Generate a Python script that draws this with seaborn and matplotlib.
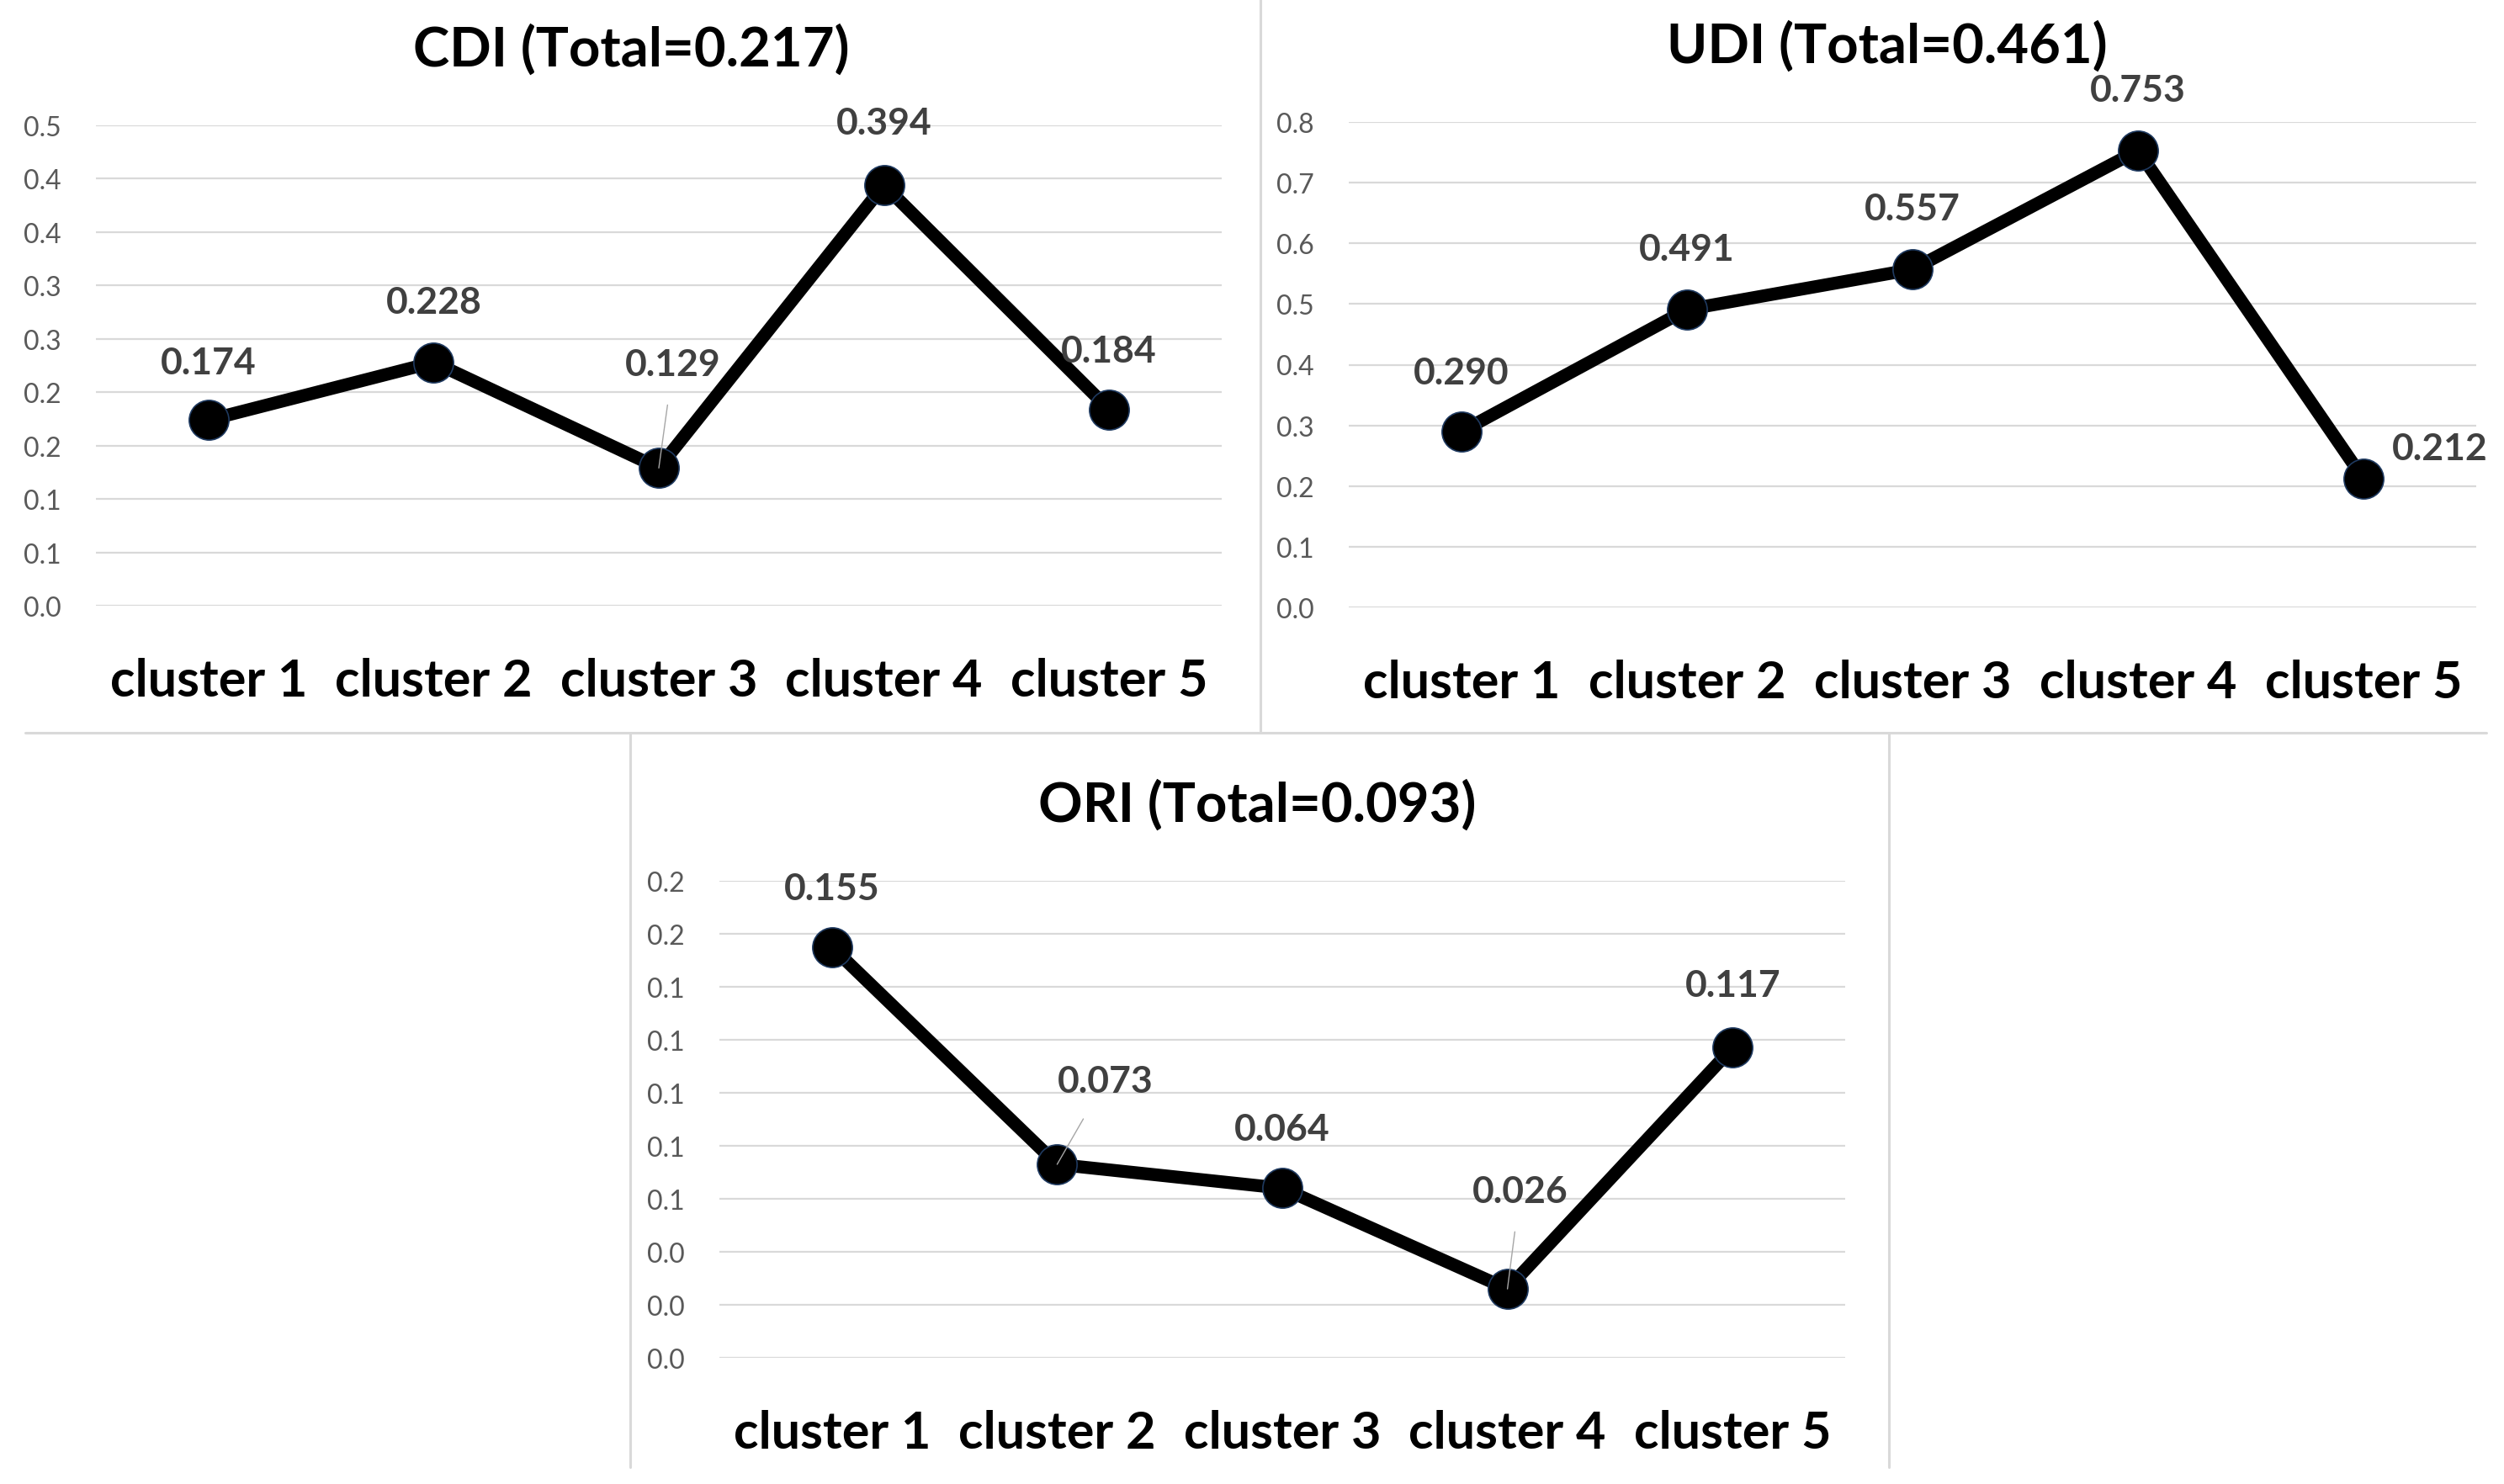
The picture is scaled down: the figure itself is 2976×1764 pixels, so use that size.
import matplotlib
matplotlib.use("Agg")
import matplotlib.pyplot as plt
import seaborn as sns
import pandas as pd
from matplotlib.lines import Line2D

# ---------------- data ----------------
clusters = ["cluster 1", "cluster 2", "cluster 3", "cluster 4", "cluster 5"]

cdi_values = [0.174, 0.228, 0.129, 0.394, 0.184]
udi_values = [0.290, 0.491, 0.557, 0.753, 0.212]
ori_values = [0.155, 0.073, 0.064, 0.026, 0.117]

cdi_title = "CDI (Total=0.217)"
udi_title = "UDI (Total=0.461)"
ori_title = "ORI (Total=0.093)"

cdi_yticks = [0.00, 0.05, 0.10, 0.15, 0.20, 0.25, 0.30, 0.35, 0.40, 0.45]
cdi_ylabels = ["0.0", "0.1", "0.1", "0.2", "0.2", "0.3", "0.3", "0.4", "0.4", "0.5"]
udi_yticks = [0.0, 0.1, 0.2, 0.3, 0.4, 0.5, 0.6, 0.7, 0.8]
udi_ylabels = ["0.0", "0.1", "0.2", "0.3", "0.4", "0.5", "0.6", "0.7", "0.8"]
ori_yticks = [0.00, 0.02, 0.04, 0.06, 0.08, 0.10, 0.12, 0.14, 0.16, 0.18]
ori_ylabels = ["0.0", "0.0", "0.0", "0.1", "0.1", "0.1", "0.1", "0.1", "0.2", "0.2"]

# label offsets in pixels (dx, dy) and whether a leader line is drawn
cdi_offsets = [(0, 68), (0, 72), (17, 123), (0, 74), (0, 70)]
cdi_leader = [False, False, True, False, False]
udi_offsets = [(0, 70), (0, 72), (0, 72), (0, 72), (91, 36)]
udi_leader = [False, False, False, False, False]
ori_offsets = [(0, 70), (57, 99), (0, 70), (15, 116), (0, 74)]
ori_leader = [False, True, False, True, False]

# ---------------- style ----------------
sns.set_theme(style="white")
plt.rcParams["font.family"] = ["Lato", "DejaVu Sans"]

W, H = 2976, 1765
DPI = 100
fig = plt.figure(figsize=(W / DPI, H / DPI), dpi=DPI)
fig.patch.set_facecolor("white")

GRID = "#d9d9d9"


def px_axes(left, right, bottom_px, top_px):
    return fig.add_axes([left / W, 1 - bottom_px / H, (right - left) / W, (bottom_px - top_px) / H])


def draw_panel(ax, values, yticks, ylabels, ymax, title, title_xy, offsets, leaders):
    df = pd.DataFrame({"cluster": clusters, "value": values})
    df["pos"] = range(len(clusters))
    sns.lineplot(data=df, x="pos", y="value", ax=ax, color="black", linewidth=11,
                 marker="o", markersize=34, markerfacecolor="black",
                 markeredgecolor="#1f3a60", markeredgewidth=1.2, sort=False, zorder=3)
    ax.set_xlim(-0.5, len(clusters) - 0.5)
    ax.set_ylim(0, ymax)
    ax.set_yticks(yticks)
    ax.set_yticklabels(ylabels, fontsize=23, color="#595959")
    ax.set_xticks(range(len(clusters)))
    ax.set_xticklabels(clusters, fontsize=44, fontweight="bold", color="black")
    ax.tick_params(axis="y", length=0, pad=30)
    ax.tick_params(axis="x", length=0, pad=44)
    ax.set_xlabel("")
    ax.set_ylabel("")
    ax.yaxis.grid(True, color=GRID, linewidth=1.6)
    ax.xaxis.grid(False)
    for s in ax.spines.values():
        s.set_visible(False)
    ax.set_facecolor("none")
    for i, v in enumerate(values):
        dx, dy = offsets[i]
        ap = None
        if leaders[i]:
            ap = dict(arrowstyle="-", color="#a6a6a6", lw=1.0, shrinkA=18, shrinkB=0)
        ax.annotate(f"{v:.3f}", xy=(i, v), xytext=(dx, dy), textcoords="offset pixels",
                    ha="center", va="center", fontsize=32, fontweight="bold",
                    color="#404040", arrowprops=ap, zorder=4, annotation_clip=False)
    fig.text(title_xy[0] / W, 1 - title_xy[1] / H, title, ha="center", va="center",
             fontsize=47, fontweight="bold", color="black")


ax1 = px_axes(114, 1452, 721, 150)
draw_panel(ax1, cdi_values, cdi_yticks, cdi_ylabels, 0.45, cdi_title, (750, 59),
           cdi_offsets, cdi_leader)

ax2 = px_axes(1603, 2943, 723, 146)
draw_panel(ax2, udi_values, udi_yticks, udi_ylabels, 0.8, udi_title, (2243, 55),
           udi_offsets, udi_leader)

ax3 = px_axes(855, 2193, 1615, 1048)
draw_panel(ax3, ori_values, ori_yticks, ori_ylabels, 0.18, ori_title, (1494, 957),
           ori_offsets, ori_leader)

# panel borders
def fline(x0, y0, x1, y1):
    fig.add_artist(Line2D([x0 / W, x1 / W], [1 - y0 / H, 1 - y1 / H], color=GRID,
                          linewidth=2.2, transform=fig.transFigure))

fline(1498, 0, 1498, 872)
fline(30, 872, 2955, 872)
fline(749, 872, 749, 1745)
fline(2245, 872, 2245, 1745)

fig.savefig("out.png", dpi=DPI, facecolor="white")
